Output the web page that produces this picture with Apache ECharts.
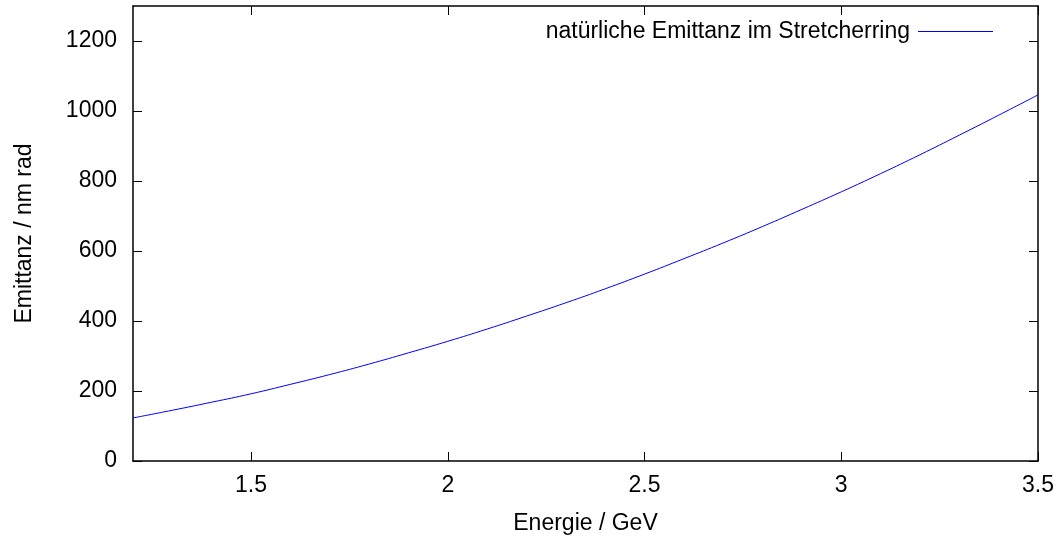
<!DOCTYPE html>
<html>
<head>
<meta charset="utf-8">
<script src="https://cdn.jsdelivr.net/npm/echarts@6/dist/echarts.min.js"></script>
<style>html,body{margin:0;padding:0;background:#fff;}#c{width:1060px;height:540px;}</style>
</head>
<body>
<div id="c"></div>
<script>
// Data
const energy = [1.2, 1.3, 1.4, 1.5, 1.6, 1.7, 1.8, 1.9, 2.0, 2.1, 2.2, 2.3, 2.4, 2.5, 2.6, 2.7, 2.8, 2.9, 3.0, 3.1, 3.2, 3.3, 3.4, 3.5];
const emittance = [123, 145, 168, 192, 219, 247, 277, 309, 342, 377, 414, 452, 492, 534, 578, 623, 670, 719, 769, 821, 875, 931, 988, 1046];
const xTicks = [1.5, 2, 2.5, 3, 3.5];
const yTicks = [0, 200, 400, 600, 800, 1000, 1200];
const seriesName = 'natürliche Emittanz im Stretcherring';
const xTitle = 'Energie / GeV';
const yTitle = 'Emittanz / nm rad';

const FONT = '"Liberation Sans", Helvetica, Arial, sans-serif';
const FS = 23;
const chart = echarts.init(document.getElementById('c'), null, {renderer: 'canvas'});
const lineStyle = {color: '#000', width: 1.5};
const tickStyle = {color: '#000', width: 1};
chart.setOption({
  animation: false,
  backgroundColor: '#fff',
  textStyle: {fontFamily: FONT},
  grid: {left: 133, right: 22, top: 6, bottom: 79, containLabel: false},
  legend: {
    right: 62, top: 15, align: 'right', orient: 'horizontal',
    icon: 'rect', itemWidth: 75, itemHeight: 1,
    data: [seriesName],
    textStyle: {fontSize: FS, color: '#000', fontFamily: FONT, padding: [0, 3, 0, 0]}
  },
  xAxis: [{
    type: 'value', min: 1.2, max: 3.5, position: 'bottom',
    name: xTitle, nameLocation: 'middle', nameGap: 51,
    nameTextStyle: {fontSize: FS, color: '#000', fontFamily: FONT},
    axisLine: {show: true, onZero: false, lineStyle: lineStyle},
    axisTick: {show: true, inside: true, length: 9, customValues: xTicks, lineStyle: tickStyle},
    axisLabel: {show: true, customValues: xTicks, fontSize: FS, color: '#000', margin: 13, fontFamily: FONT,
      formatter: v => String(v)},
    splitLine: {show: false}
  }, {
    type: 'value', min: 1.2, max: 3.5, position: 'top',
    axisLine: {show: true, onZero: false, lineStyle: lineStyle},
    axisTick: {show: true, inside: true, length: 9, customValues: xTicks, lineStyle: tickStyle},
    axisLabel: {show: false},
    splitLine: {show: false}
  }],
  yAxis: [{
    type: 'value', min: 0, max: 1300, position: 'left',
    name: yTitle, nameLocation: 'middle', nameGap: 97, nameRotate: 90,
    nameTextStyle: {fontSize: FS, color: '#000', fontFamily: FONT},
    axisLine: {show: true, onZero: false, lineStyle: lineStyle},
    axisTick: {show: true, inside: true, length: 9, customValues: yTicks, lineStyle: tickStyle},
    axisLabel: {show: true, customValues: yTicks, fontSize: FS, color: '#000', margin: 16, fontFamily: FONT,
      formatter: v => String(v)},
    splitLine: {show: false}
  }, {
    type: 'value', min: 0, max: 1300, position: 'right',
    axisLine: {show: true, onZero: false, lineStyle: lineStyle},
    axisTick: {show: true, inside: true, length: 9, customValues: yTicks, lineStyle: tickStyle},
    axisLabel: {show: false},
    splitLine: {show: false}
  }],
  series: [{
    name: seriesName,
    type: 'line',
    xAxisIndex: 0, yAxisIndex: 0,
    data: energy.map((e, i) => [e, emittance[i]]),
    smooth: true,
    showSymbol: false,
    symbol: 'none',
    lineStyle: {color: '#0000ff', width: 1},
    itemStyle: {color: '#0000ff'}
  }]
});
</script>
</body>
</html>
